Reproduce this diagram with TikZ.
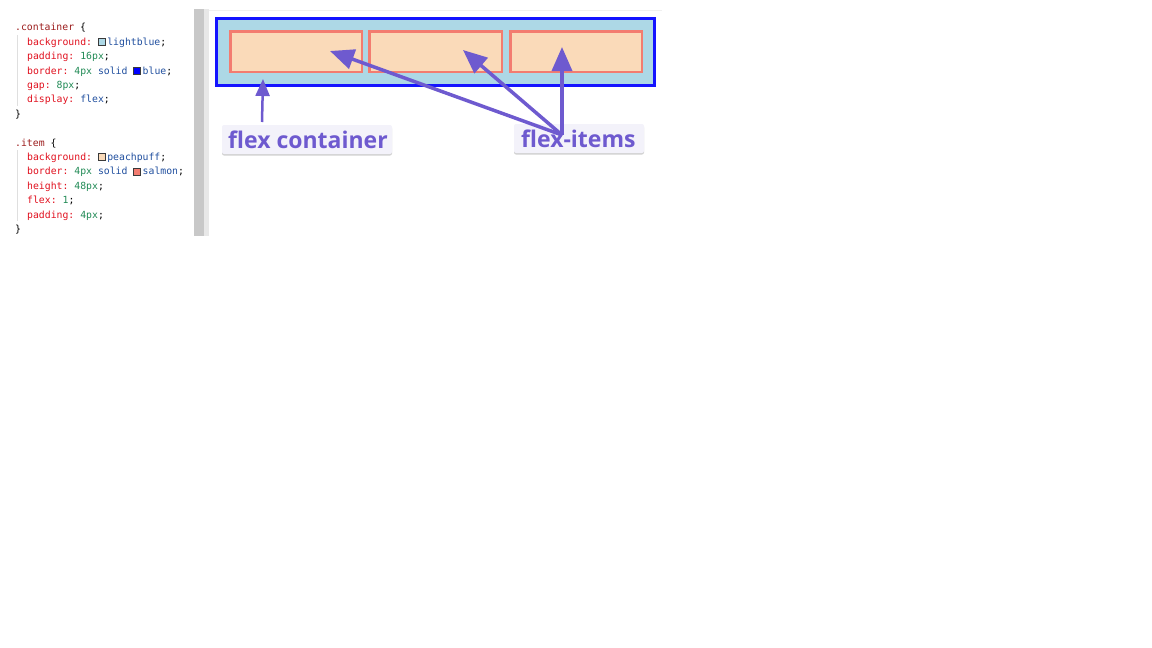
\documentclass[tikz,border=0pt]{standalone}
\usepackage{fontspec}
\setmonofont{DejaVu Sans Mono}
\newfontfamily\labelfont{Open Sans}
\usetikzlibrary{arrows.meta,shadows}
\definecolor{selc}{HTML}{9B1C1C}
\definecolor{propc}{HTML}{E0101E}
\definecolor{numc}{HTML}{208A55}
\definecolor{kwc}{HTML}{1F4E9E}
\definecolor{swb}{HTML}{3A3A3A}
\definecolor{lblue}{HTML}{ADD8E6}
\definecolor{pblue}{HTML}{1414FF}
\definecolor{ppuff}{HTML}{FADAB9}
\definecolor{salm}{HTML}{F37C70}
\definecolor{arr}{HTML}{6E5ACF}
\definecolor{lblbg}{HTML}{F3F2FA}
\definecolor{sbdark}{HTML}{C8C8C8}
\definecolor{sblight}{HTML}{E8E8E8}
\newcommand{\swatch}[1]{{\setlength\fboxsep{0pt}\setlength\fboxrule{0.7pt}\fcolorbox{swb}{#1}{\rule{0pt}{6.3pt}\rule{6.3pt}{0pt}}}\hspace{1.6pt}}
\newcommand{\pr}[1]{\textcolor{propc}{#1}}
\newcommand{\nm}[1]{\textcolor{numc}{#1}}
\newcommand{\kw}[1]{\textcolor{kwc}{#1}}
\begin{document}
\begin{tikzpicture}[x=1pt,y=-1pt,
  code/.style={anchor=base west, inner sep=0pt, font=\ttfamily\fontsize{9.8}{12}\selectfont},
  itembox/.style={draw=salm, fill=ppuff, line width=2.5pt},
  lbl/.style={fill=lblbg, rounded corners=2pt, inner sep=0pt,
    drop shadow={shadow xshift=0pt, shadow yshift=-1.5pt, opacity=0.18, fill=black}},
  lbltext/.style={text=arr, font=\labelfont\bfseries\fontsize{23}{26}\selectfont, inner sep=0pt, anchor=base west},
  bigarrow/.style={draw=arr, line width=3.5pt, -{Triangle[length=24pt,width=20pt]}},
  smallarrow/.style={draw=arr, line width=2.5pt, -{Triangle[length=17pt,width=14pt]}}]
\useasboundingbox (0,0) rectangle (1152,648);
% scrollbar and panel edge
\fill[sbdark] (194,9) rectangle (204,236);
\fill[sblight] (204,9) rectangle (209,236);
\draw[gray!12, line width=0.8pt] (209,10.5) -- (662,10.5);
% code guides
\draw[gray!25, line width=0.6pt] (17.5,35) -- (17.5,106);
\draw[gray!25, line width=0.6pt] (17.5,150) -- (17.5,221);
% code text
\node[code] (c1) at (15,30.8) {\textcolor{selc}{.container} \{};
\node[code] (c2) at (27,45.2) {\pr{background:} \swatch{lblue}\kw{lightblue};};
\node[code] (c3) at (27,59.6) {\pr{padding:} \nm{16px};};
\node[code] (c4) at (27,74.0) {\pr{border:} \nm{4px} \kw{solid} \swatch{blue}\kw{blue};};
\node[code] (c5) at (27,88.4) {\pr{gap:} \nm{8px};};
\node[code] (c6) at (27,102.8) {\pr{display:} \kw{flex};};
\node[code] (c7) at (15,117.2) {\}};
\node[code] (d1) at (15,146.0) {\textcolor{selc}{.item} \{};
\node[code] (d2) at (27,160.4) {\pr{background:} \swatch{ppuff}\kw{peachpuff};};
\node[code] (d3) at (27,174.8) {\pr{border:} \nm{4px} \kw{solid} \swatch{salm}\kw{salmon};};
\node[code] (d4) at (27,189.2) {\pr{height:} \nm{48px};};
\node[code] (d5) at (27,203.6) {\pr{flex:} \nm{1};};
\node[code] (d6) at (27,218.0) {\pr{padding:} \nm{4px};};
\node[code] (d7) at (15,232.4) {\}};
% flex container
\draw[draw=pblue, fill=lblue, line width=2.7pt] (216.35,18.35) rectangle (654.65,85.65);
\node[itembox, minimum width=131.5pt, minimum height=40.5pt, inner sep=0pt] (item1) at (296,51.5) {};
\node[itembox, minimum width=132.5pt, minimum height=40.5pt, inner sep=0pt] (item2) at (435.5,51.5) {};
\node[itembox, minimum width=131.5pt, minimum height=40.5pt, inner sep=0pt] (item3) at (576,51.5) {};
% labels
\node[lbl, minimum width=170pt, minimum height=29pt] (fclabel) at (307,139.5) {};
\node[lbltext] (fctext) at (228,148.5) {flex container};
\node[lbl, minimum width=130pt, minimum height=29pt] (filabel) at (579,138.5) {};
\node[lbltext] (fitext) at (521,147.5) {flex-items};
% arrows
\coordinate (fcstart) at (262,122);
\coordinate (fctip) at (263,79);
\coordinate (fistart) at (562,135);
\coordinate (t1) at (330,51);
\coordinate (t2) at (463,50);
\coordinate (t3) at (562,47);
\draw[smallarrow] (fcstart) -- (fctip);
\draw[bigarrow] (fistart) -- (t1);
\draw[bigarrow] (fistart) -- (t2);
\draw[bigarrow] (fistart) -- (t3);
\end{tikzpicture}
\end{document}
